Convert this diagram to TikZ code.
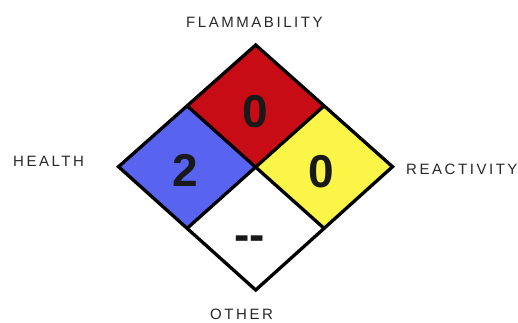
\documentclass[tikz,border=0pt]{standalone}
\usepackage{fontspec}
\setmainfont{Liberation Sans}
\usetikzlibrary{calc}
\definecolor{nfpablue}{RGB}{88,100,240}
\definecolor{nfpared}{RGB}{200,12,22}
\definecolor{nfpayellow}{RGB}{250,245,70}
\definecolor{lblgray}{RGB}{40,40,40}
\begin{document}
\begin{tikzpicture}[x=1pt,y=-1pt,
  lbl/.style={font=\fontsize{15}{15}\selectfont\addfontfeature{LetterSpace=17}, text=lblgray, inner sep=0pt, anchor=base west},
  digit/.style={font=\fontsize{46}{46}\selectfont\bfseries, text=black!90, inner sep=0pt, anchor=base},
  edge/.style={draw=black, line width=3.3pt, line join=miter}]
\useasboundingbox (0,0) rectangle (518,322);
\coordinate (T) at (255.7,45);
\coordinate (L) at (118.5,166.7);
\coordinate (R) at (392.5,166.7);
\coordinate (B) at (255.7,290);
\coordinate (C) at (255.7,166.7);
\coordinate (TL) at ($(T)!0.5!(L)$);
\coordinate (TR) at ($(T)!0.5!(R)$);
\coordinate (BL) at ($(B)!0.5!(L)$);
\coordinate (BR) at ($(B)!0.5!(R)$);
\fill[nfpared] (T) -- (TR) -- (C) -- (TL) -- cycle;
\fill[nfpablue] (L) -- (TL) -- (C) -- (BL) -- cycle;
\fill[nfpayellow] (R) -- (TR) -- (C) -- (BR) -- cycle;
\fill[white] (B) -- (BL) -- (C) -- (BR) -- cycle;
\draw[edge] (T) -- (R) -- (B) -- (L) -- cycle;
\draw[edge] (TL) -- (BR);
\draw[edge] (TR) -- (BL);
\node[digit] (flam) at (255,127.5) {0};
\node[digit] (health) at (185,186.5) {2};
\node[digit] (react) at (321.7,187.5) {0};
\node[digit] (other) at (249.5,250) {-{}-};
\node[lbl] (flamlbl) at (186,27.5) {FLAMMABILITY};
\node[lbl] (healthlbl) at (13,166) {HEALTH};
\node[lbl] (reactlbl) at (406,174) {REACTIVITY};
\node[lbl] (otherlbl) at (210,319.5) {OTHER};
\end{tikzpicture}
\end{document}
